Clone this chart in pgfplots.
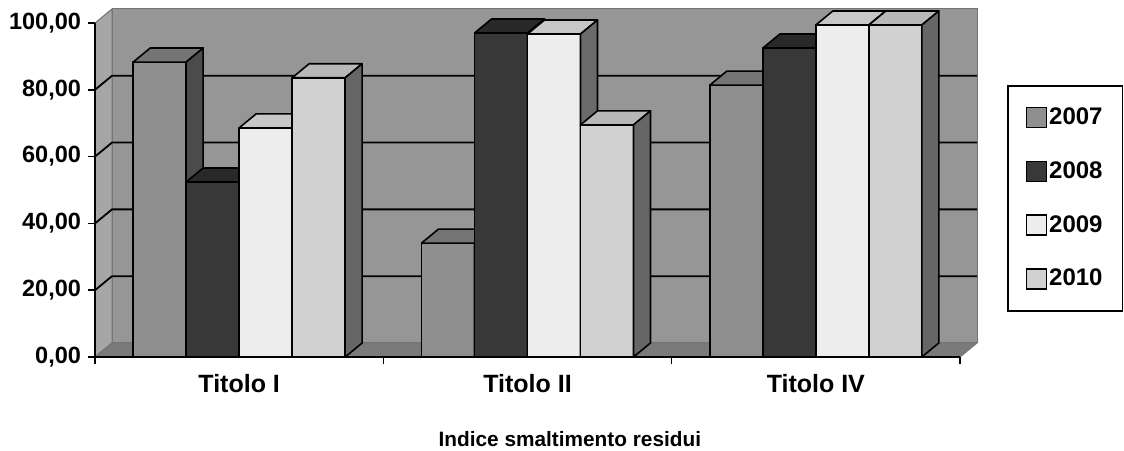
\documentclass[border=0pt]{standalone}
\usepackage{pgfplots}
\pgfplotsset{compat=1.18}
\usepackage{pgfplotstable}
\usepackage{fontspec}
\setmainfont{Liberation Sans}

\pgfplotstableread{
cat y2007 y2008 y2009 y2010
0 88.3 52.4 68.6 83.6
1 34.1 97.0 96.7 69.5
2 81.4 92.5 99.4 99.4
}\datatable

\definecolor{wallc}{gray}{0.59}
\definecolor{lwallc}{gray}{0.65}
\definecolor{floorc}{gray}{0.48}
\definecolor{fA}{gray}{0.56}\definecolor{tA}{gray}{0.46}\definecolor{sA}{gray}{0.30}
\definecolor{fB}{gray}{0.22}\definecolor{tB}{gray}{0.16}\definecolor{sB}{gray}{0.20}
\definecolor{fC}{gray}{0.93}\definecolor{tC}{gray}{0.78}\definecolor{sC}{gray}{0.42}
\definecolor{fD}{gray}{0.82}\definecolor{tD}{gray}{0.72}\definecolor{sD}{gray}{0.40}

\def\bw{0.1838}
\def\ddx{0.059}
\def\ddy{4.2}

\pgfplotsset{face/.style={draw=black, line width=0.8pt, line join=round, forget plot}}

\newcommand\onebar[5]{%
  \pgfmathsetmacro\bxA{#1}%
  \pgfmathsetmacro\bxB{#1+\bw}%
  \pgfmathsetmacro\bxC{#1+\ddx}%
  \pgfmathsetmacro\bxD{#1+\bw+\ddx}%
  \pgfmathsetmacro\byA{#2}%
  \pgfmathsetmacro\byB{#2+\ddy}%
  \edef\dobar{%
    \noexpand\addplot[face,fill=#3] coordinates {(\bxA,0) (\bxB,0) (\bxB,\byA) (\bxA,\byA)} -- cycle;
    \noexpand\addplot[face,fill=#4] coordinates {(\bxA,\byA) (\bxB,\byA) (\bxD,\byB) (\bxC,\byB)} -- cycle;
    \noexpand\addplot[face,fill=#5] coordinates {(\bxB,0) (\bxD,\ddy) (\bxD,\byB) (\bxB,\byA)} -- cycle;
  }\dobar}

\newcommand\drawcat[2]{%
  \pgfmathsetmacro\catl{#2-2*\bw}%
  \pgfplotstablegetelem{#1}{y2007}\of\datatable\let\vA\pgfplotsretval
  \pgfplotstablegetelem{#1}{y2008}\of\datatable\let\vB\pgfplotsretval
  \pgfplotstablegetelem{#1}{y2009}\of\datatable\let\vC\pgfplotsretval
  \pgfplotstablegetelem{#1}{y2010}\of\datatable\let\vD\pgfplotsretval
  \let\lA\catl
  \pgfmathsetmacro\lB{\catl+\bw}%
  \pgfmathsetmacro\lC{\catl+2*\bw}%
  \pgfmathsetmacro\lD{\catl+3*\bw}%
  \onebar{\lA}{\vA}{fA}{tA}{sA}%
  \onebar{\lB}{\vB}{fB}{tB}{sB}%
  \onebar{\lC}{\vC}{fC}{tC}{sC}%
  \onebar{\lD}{\vD}{fD}{tD}{sD}%
}

\begin{document}
\begin{tikzpicture}
\useasboundingbox (0,0) rectangle (562pt,225pt);
\begin{axis}[
  at={(47.5pt,46.5pt)}, anchor=south west,
  scale only axis, width=432.5pt, height=167pt,
  xmin=-0.5, xmax=2.5, ymin=0, ymax=100,
  clip=false, axis on top,
  axis x line*=bottom, axis y line*=left,
  axis line style={line width=0.8pt},
  xtick={-0.5,0.5,1.5,2.5}, x tick label as interval,
  xticklabels={Titolo I,Titolo II,Titolo IV},
  ytick={0,20,40,60,80,100},
  tick align=outside, major tick length=3.5pt,
  tick style={line width=0.8pt, black},
  /pgf/number format/.cd, fixed, fixed zerofill, precision=2, use comma, assume math mode=true,
  /pgfplots/.cd,
  yticklabel style={font=\fontsize{11.75}{13}\selectfont\bfseries},
  xticklabel style={font=\fontsize{12.5}{14}\selectfont\bfseries, yshift=-1.5pt},
  xlabel={Indice smaltimento residui},
  xlabel style={at={(axis description cs:0.549,-0.2455)}, anchor=center, font=\fontsize{10.4}{12}\selectfont\bfseries},
  legend style={at={(axis description cs:1.0543,0.8144)}, anchor=north west,
    draw=black, line width=0.8pt, font=\fontsize{12}{13}\selectfont\bfseries,
    row sep=15pt, inner xsep=9pt, inner ysep=10pt, nodes={inner sep=1pt}},
  legend cell align=left,
  legend image code/.code={\draw[#1, line width=0.7pt] (0pt,-5pt) rectangle (10pt,5pt);},
]
% walls
\addplot[forget plot, fill=wallc, draw=black!55, line width=0.5pt] coordinates {(-0.441,4.2) (2.559,4.2) (2.559,104.2) (-0.441,104.2)} -- cycle;
\addplot[forget plot, fill=lwallc, draw=black!55, line width=0.5pt] coordinates {(-0.5,0) (-0.441,4.2) (-0.441,104.2) (-0.5,100)} -- cycle;
\addplot[forget plot, fill=floorc, draw=black!55, line width=0.5pt] coordinates {(-0.5,0) (2.5,0) (2.559,4.2) (-0.441,4.2)} -- cycle;
% gridlines
\addplot[forget plot, black, line width=0.9pt] coordinates {(-0.5,20) (-0.441,24.2) (2.559,24.2)};
\addplot[forget plot, black, line width=0.9pt] coordinates {(-0.5,40) (-0.441,44.2) (2.559,44.2)};
\addplot[forget plot, black, line width=0.9pt] coordinates {(-0.5,60) (-0.441,64.2) (2.559,64.2)};
\addplot[forget plot, black, line width=0.9pt] coordinates {(-0.5,80) (-0.441,84.2) (2.559,84.2)};
% bars
\drawcat{0}{0}
\drawcat{1}{1}
\drawcat{2}{2}
% legend
\addlegendimage{fill=fA, draw=black}\addlegendentry{2007}
\addlegendimage{fill=fB, draw=black}\addlegendentry{2008}
\addlegendimage{fill=fC, draw=black}\addlegendentry{2009}
\addlegendimage{fill=fD, draw=black}\addlegendentry{2010}
\end{axis}
\end{tikzpicture}
\end{document}
